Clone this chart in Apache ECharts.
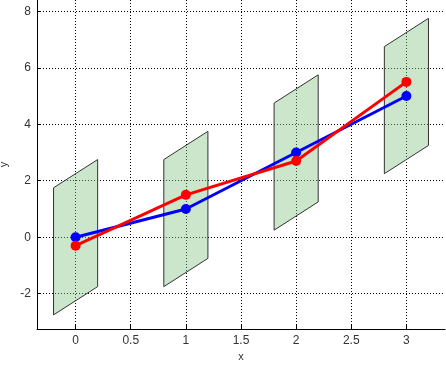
<!DOCTYPE html>
<html>
<head>
<meta charset="utf-8">
<script src="https://cdn.jsdelivr.net/npm/echarts@6/dist/echarts.min.js"></script>
<style>html,body{margin:0;padding:0;background:#fff;}#c{width:446px;height:365px;}</style>
</head>
<body>
<div id="c"></div>
<script>
const xs = [0, 1, 2, 3];
const blueY = [0, 1, 3, 5];
const redY = [-0.3, 1.5, 2.7, 5.5];
// parallelogram bands: centre value, half-width (x), half-height (y), skew (y rise across half-width)
const bandCenters = [0, 1, 3, 5];
const bandHalfWidth = 0.2;
const bandHalfHeight = 2.25;
const bandSkew = 0.5;
const xTicks = [0, 0.5, 1, 1.5, 2, 2.5, 3];
const yTicks = [-2, 0, 2, 4, 6, 8];

const chart = echarts.init(document.getElementById('c'));
const font = 'Liberation Sans, Arial, sans-serif';
chart.setOption({
  animation: false,
  grid: {left: 37, right: 1, top: 0, bottom: 36, containLabel: false, outerBoundsMode: 'none'},
  xAxis: {
    type: 'value', min: -0.35, max: 3.35,
    name: 'x', nameLocation: 'middle', nameGap: 22,
    nameTextStyle: {fontFamily: font, fontSize: 11, color: '#333'},
    axisLine: {show: true, onZero: false, lineStyle: {color: '#000', width: 1}},
    axisTick: {show: true, inside: true, length: 4, customValues: xTicks, lineStyle: {color: '#000'}},
    axisLabel: {customValues: xTicks, fontFamily: font, fontSize: 12, color: '#333', margin: 6},
    splitLine: {show: true, lineStyle: {color: '#000', type: [1, 2], width: 1}}
  },
  yAxis: {
    type: 'value', min: -3.25, max: 8.4,
    name: 'y', nameLocation: 'middle', nameGap: 24, nameRotate: 90,
    nameTextStyle: {fontFamily: font, fontSize: 11, color: '#333'},
    axisLine: {show: true, onZero: false, lineStyle: {color: '#000', width: 1}},
    axisTick: {show: true, inside: true, length: 4, customValues: yTicks, lineStyle: {color: '#000'}},
    axisLabel: {customValues: yTicks, fontFamily: font, fontSize: 12, color: '#333', margin: 6},
    splitLine: {show: true, lineStyle: {color: '#000', type: [1, 2], width: 1}}
  },
  series: [
    {
      type: 'custom',
      data: xs.map((x, i) => [x, bandCenters[i]]),
      renderItem: function (params, api) {
        const x = api.value(0), c = api.value(1);
        const p1 = api.coord([x - bandHalfWidth, c - bandHalfHeight - bandSkew]);
        const p2 = api.coord([x + bandHalfWidth, c - bandHalfHeight + bandSkew]);
        const p3 = api.coord([x + bandHalfWidth, c + bandHalfHeight + bandSkew]);
        const p4 = api.coord([x - bandHalfWidth, c + bandHalfHeight - bandSkew]);
        return {
          type: 'polygon',
          shape: {points: [p1, p2, p3, p4]},
          style: {fill: 'rgba(130,195,130,0.42)', stroke: '#333', lineWidth: 1}
        };
      },
      z: 1
    },
    {
      type: 'line',
      data: xs.map((x, i) => [x, blueY[i]]),
      lineStyle: {color: '#0000ff', width: 3},
      itemStyle: {color: '#0000ff'},
      symbol: 'circle', symbolSize: 10,
      z: 3
    },
    {
      type: 'line',
      data: xs.map((x, i) => [x, redY[i]]),
      lineStyle: {color: '#ff0000', width: 3},
      itemStyle: {color: '#ff0000'},
      symbol: 'circle', symbolSize: 10,
      z: 4
    }
  ]
});
</script>
</body>
</html>
